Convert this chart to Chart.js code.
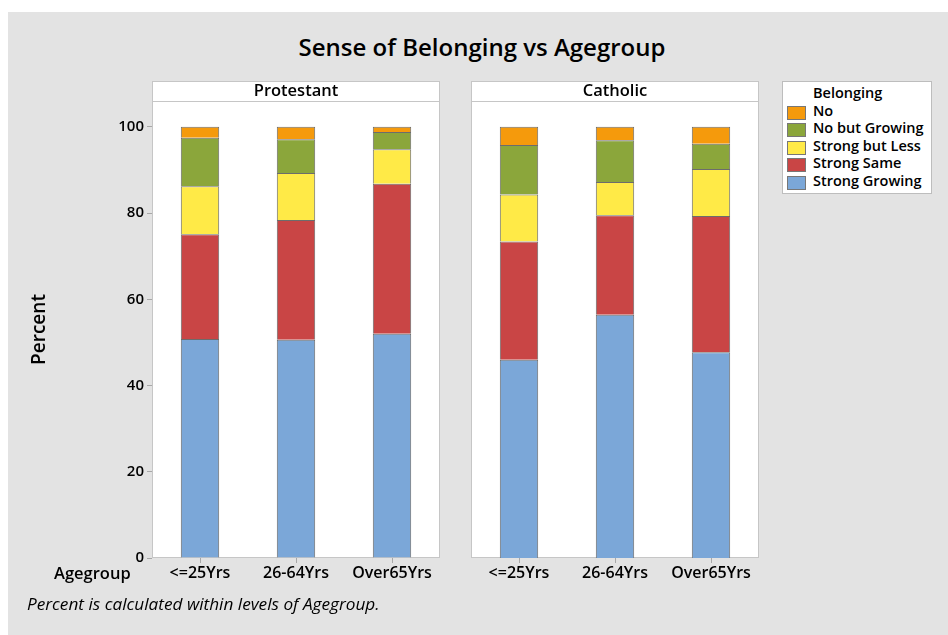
<!DOCTYPE html>
<html>
<head>
<meta charset="utf-8">
<script src="https://cdn.jsdelivr.net/npm/chart.js@4.4.0/dist/chart.umd.min.js"></script>
<style>
  body { margin: 0; width: 948px; height: 635px; background: #fff; position: relative; overflow: hidden;
         font-family: "Open Sans", "Noto Sans", sans-serif; }
  #bg { position: absolute; left: 8px; top: 12px; right: 0; bottom: 0; background: #e3e3e3; }
  .abs { position: absolute; white-space: nowrap; }
  #title { left: 482px; top: 30px; transform: translateX(-50%); font-size: 24px; font-weight: 600; color: #000; }
  #agegroup { left: 54px; top: 561px; font-size: 16.5px; font-weight: 600; }
  #note { left: 27px; top: 592px; font-size: 17.2px; font-style: italic; }
  #legend { left: 782px; top: 81px; width: 148px; height: 111px; background: #fff; border: 1px solid #bdbdbd; }
  #legend .head { position: absolute; left: 30px; top: 1px; font-size: 14.5px; font-weight: 600; }
  #legend .row { position: absolute; left: 4px; height: 17px; font-size: 14.5px; font-weight: 600; line-height: 17px; }
  #legend .sw { position: absolute; left: 0; top: 3px; width: 17px; height: 12px; border: 1px solid #777; }
  #legend .lbl { position: absolute; left: 26px; top: -1px; }
  canvas { position: absolute; }
</style>
</head>
<body>
<div id="bg"></div>
<div id="title" class="abs">Sense of Belonging vs Agegroup</div>
<canvas id="prot" width="430" height="520" style="left:20px; top:70px;"></canvas>
<canvas id="cath" width="310" height="520" style="left:460px; top:70px;"></canvas>
<div id="agegroup" class="abs">Agegroup</div>
<div id="note" class="abs">Percent is calculated within levels of Agegroup.</div>
<div id="legend" class="abs"><div class="head">Belonging</div></div>
<script>
const ageGroups = ["<=25Yrs", "26-64Yrs", "Over65Yrs"];
const seriesNames = ["Strong Growing", "Strong Same", "Strong but Less", "No but Growing", "No"];
const seriesColors = ["#7ba7d8", "#c94545", "#ffea47", "#8ba63b", "#f59a0c"];
const yTicks = [0, 20, 40, 60, 80, 100];

// Protestant panel, percent within each age group
const protStrongGrowing = [50.8, 50.6, 52.0];
const protStrongSame = [24.3, 27.8, 34.8];
const protStrongButLess = [11.1, 10.9, 8.0];
const protNoButGrowing = [11.3, 7.8, 4.0];
const protNo = [2.5, 2.9, 1.2];

// Catholic panel
const cathStrongGrowing = [46.0, 56.4, 47.7];
const cathStrongSame = [27.4, 23.1, 31.6];
const cathStrongButLess = [10.9, 7.7, 10.9];
const cathNoButGrowing = [11.5, 9.7, 5.9];
const cathNo = [4.2, 3.1, 3.9];

const FONT = "'Open Sans', 'Noto Sans', sans-serif";

function makeDatasets(seriesValues) {
  return seriesValues.map((vals, i) => ({
    label: seriesNames[i],
    data: vals,
    backgroundColor: seriesColors[i],
    borderColor: "#6c6c6c",
    borderWidth: 1,
    barPercentage: 0.4,
    categoryPercentage: 1,
  }));
}

// white panel with header strip, drawn behind the bars
const panelPlugin = {
  id: "panel",
  beforeDraw(chart, args, opts) {
    const { ctx, chartArea } = chart;
    const { left, right, top, bottom } = chartArea;
    const head = 20;
    ctx.save();
    ctx.fillStyle = "#fff";
    ctx.fillRect(left, top - head, right - left, bottom - top + head);
    ctx.strokeStyle = "#c6c6c6";
    ctx.lineWidth = 1;
    ctx.strokeRect(left + 0.5, top - head + 0.5, right - left - 1, bottom - top + head - 1);
    ctx.beginPath();
    ctx.moveTo(left, top + 0.5);
    ctx.lineTo(right, top + 0.5);
    ctx.stroke();
    ctx.fillStyle = "#000";
    ctx.font = "600 16.5px " + FONT;
    ctx.textAlign = "center";
    ctx.textBaseline = "middle";
    ctx.fillText(opts.text, (left + right) / 2, top - head / 2);
    ctx.restore();
  },
};

function makeChart(id, panelTitle, seriesValues, showY, padding) {
  return new Chart(document.getElementById(id), {
    type: "bar",
    data: { labels: ageGroups, datasets: makeDatasets(seriesValues) },
    plugins: [panelPlugin],
    options: {
      responsive: false,
      animation: false,
      layout: { padding: padding },
      plugins: {
        legend: { display: false },
        tooltip: { enabled: false },
        panel: { text: panelTitle },
      },
      scales: {
        x: {
          stacked: true,
          grid: { drawOnChartArea: false, offset: false, tickLength: 5, color: "#a8a8a8" },
          border: { display: false },
          ticks: { color: "#000", padding: 1, maxRotation: 0, font: { family: FONT, size: 16, weight: "600" } },
          afterFit(s) { s.height = 32; },
        },
        y: {
          display: showY,
          stacked: true,
          min: 0,
          max: 106,
          afterBuildTicks(s) { s.ticks = yTicks.map((v) => ({ value: v })); },
          grid: { drawOnChartArea: false, tickLength: 5, color: "#a8a8a8" },
          border: { display: false },
          ticks: { color: "#000", padding: 3, font: { family: FONT, size: 15, weight: "600" } },
          title: {
            display: true,
            text: "Percent",
            color: "#000",
            font: { family: FONT, size: 19, weight: "600" },
            padding: { top: 8 },
          },
          afterFit(s) { s.width = showY ? 132 : 0; },
        },
      },
    },
  });
}

makeChart("prot", "Protestant",
  [protStrongGrowing, protStrongSame, protStrongButLess, protNoButGrowing, protNo],
  true, { top: 31, right: 10, left: 0, bottom: 0 });
makeChart("cath", "Catholic",
  [cathStrongGrowing, cathStrongSame, cathStrongButLess, cathNoButGrowing, cathNo],
  false, { top: 31, right: 11, left: 11, bottom: 0 });

// legend, top entry is the top of the stack
const legend = document.getElementById("legend");
seriesNames.slice().reverse().forEach((name, k) => {
  const i = seriesNames.length - 1 - k;
  const row = document.createElement("div");
  row.className = "row";
  row.style.top = (21 + k * 17.4) + "px";
  row.innerHTML = '<span class="sw" style="background:' + seriesColors[i] + '"></span><span class="lbl">' + name + "</span>";
  legend.appendChild(row);
});
</script>
</body>
</html>
